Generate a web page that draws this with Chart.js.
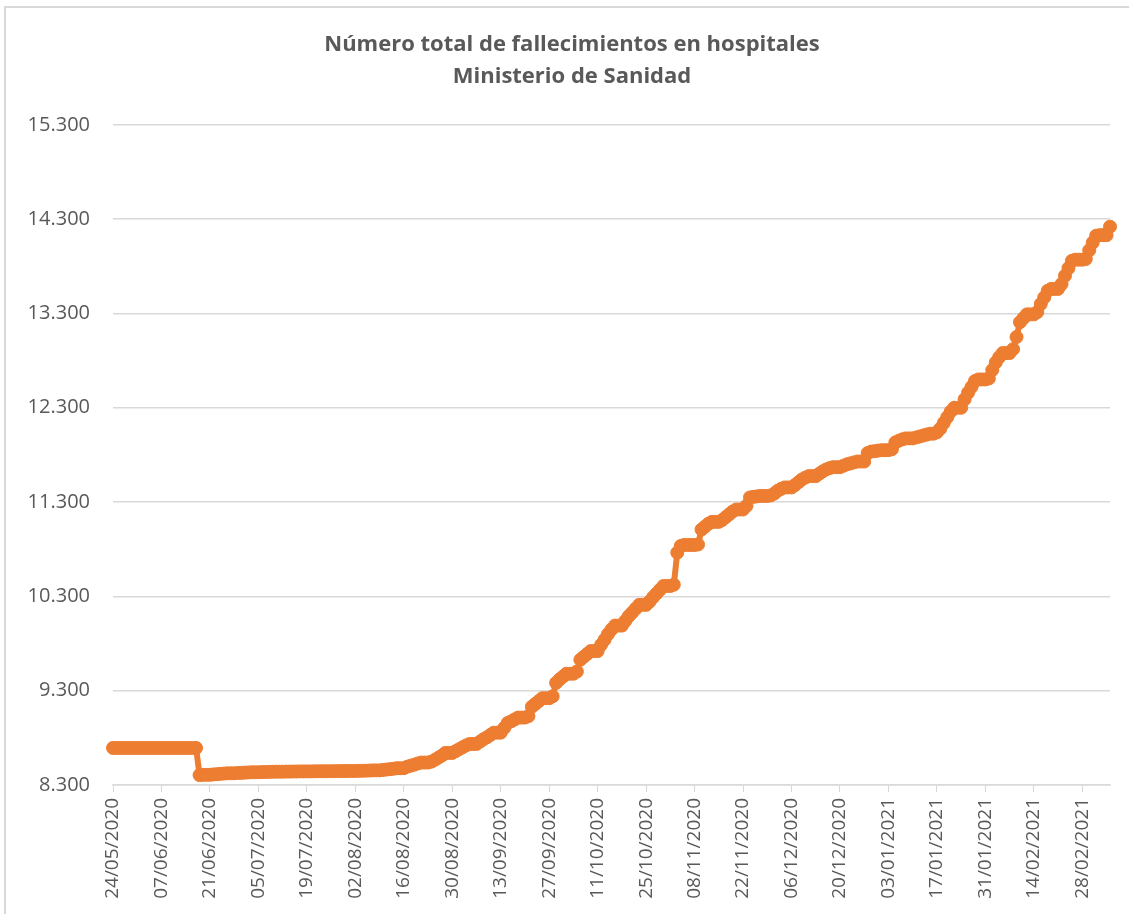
<!DOCTYPE html>
<html lang="es">
<head>
<meta charset="utf-8">
<title>Número total de fallecimientos en hospitales</title>
<script src="https://cdn.jsdelivr.net/npm/chart.js@4/dist/chart.umd.min.js"></script>
<style>
    html, body { margin: 0; padding: 0; background: #fff; overflow: hidden; }
    #frame {
        position: absolute; left: 4px; top: 6px;
        width: 2000px; height: 2000px;
        border-left: 2px solid #d9d9d9; border-top: 2px solid #d9d9d9;
    }
    #wrap { position: absolute; left: 5px; top: 8px; width: 1134px; height: 906px; }
</style>
</head>
<body>
<div id="frame"></div>
<div id="wrap"><canvas id="chart"></canvas></div>
<script>
// First day of the series, one point per day
const startDay = new Date(2020, 4, 24);

// Dates shown on the x axis (every 14 days)
const tickLabels = [
    '24/05/2020', '07/06/2020', '21/06/2020', '05/07/2020', '19/07/2020', '02/08/2020',
    '16/08/2020', '30/08/2020', '13/09/2020', '27/09/2020', '11/10/2020', '25/10/2020',
    '08/11/2020', '22/11/2020', '06/12/2020', '20/12/2020', '03/01/2021', '17/01/2021',
    '31/01/2021', '14/02/2021', '28/02/2021'
];

// Cumulative hospital deaths, one row per week (Sun..Sat)
const deaths = [
    8693, 8693, 8693, 8693, 8693, 8693, 8693,
    8693, 8693, 8693, 8693, 8693, 8693, 8693,
    8693, 8693, 8693, 8693, 8693, 8693, 8693,
    8693, 8693, 8693, 8693, 8405, 8408, 8408,
    8408, 8412, 8415, 8418, 8421, 8424, 8424,
    8424, 8427, 8429, 8431, 8433, 8435, 8435,
    8435, 8437, 8438, 8439, 8440, 8441, 8441,
    8441, 8442, 8442, 8443, 8443, 8444, 8444,
    8444, 8444, 8445, 8445, 8446, 8446, 8446,
    8446, 8447, 8447, 8448, 8448, 8449, 8449,
    8449, 8450, 8451, 8452, 8453, 8455, 8455,
    8455, 8460, 8464, 8468, 8472, 8478, 8478,
    8478, 8494, 8505, 8515, 8528, 8538, 8538,
    8538, 8548, 8568, 8590, 8612, 8640, 8640,
    8640, 8660, 8680, 8700, 8720, 8735, 8735,
    8735, 8760, 8785, 8805, 8830, 8855, 8855,
    8855, 8905, 8958, 8975, 8995, 9015, 9015,
    9015, 9030, 9130, 9160, 9190, 9220, 9220,
    9220, 9240, 9383, 9420, 9450, 9480, 9480,
    9480, 9503, 9628, 9660, 9690, 9720, 9720,
    9720, 9787, 9840, 9900, 9950, 9990, 9990,
    9990, 10040, 10090, 10130, 10170, 10210, 10210,
    10210, 10245, 10290, 10330, 10370, 10410, 10410,
    10410, 10424, 10764, 10835, 10845, 10845, 10845,
    10845, 10850, 11009, 11040, 11070, 11090, 11090,
    11090, 11110, 11140, 11170, 11200, 11221, 11221,
    11221, 11260, 11349, 11355, 11360, 11365, 11365,
    11365, 11370, 11390, 11420, 11440, 11455, 11455,
    11455, 11480, 11510, 11540, 11560, 11575, 11575,
    11575, 11600, 11625, 11646, 11660, 11670, 11670,
    11670, 11685, 11700, 11710, 11720, 11730, 11730,
    11730, 11820, 11835, 11840, 11845, 11850, 11850,
    11850, 11860, 11933, 11950, 11965, 11975, 11975,
    11975, 11985, 11995, 12005, 12015, 12025, 12025,
    12039, 12080, 12140, 12200, 12260, 12300, 12300,
    12300, 12390, 12460, 12520, 12584, 12600, 12600,
    12600, 12610, 12700, 12780, 12836, 12880, 12880,
    12880, 12921, 13050, 13207, 13250, 13290, 13290,
    13290, 13314, 13400, 13470, 13540, 13560, 13560,
    13560, 13611, 13700, 13780, 13859, 13870, 13870,
    13870, 13877, 13970, 14050, 14124, 14130, 14130,
    14130, 14220
];

// Y axis range
const yMin = 8300;
const yMax = 15300;
const yStep = 1000;

// Build dd/mm/yyyy category labels
function pad(n) { return n < 10 ? '0' + n : '' + n; }
const dates = deaths.map((_, i) => {
    const d = new Date(startDay.getFullYear(), startDay.getMonth(), startDay.getDate() + i);
    return pad(d.getDate()) + '/' + pad(d.getMonth() + 1) + '/' + d.getFullYear();
});

function formatThousands(v) {
    return String(v).replace(/\B(?=(\d{3})+(?!\d))/g, '.');
}

const textColor = '#595959';
const gridColor = '#d9d9d9';
const orange = '#ED7D31';

// Title is centred on the whole frame, not on the padded area
const centerTitle = {
    id: 'centerTitle',
    afterLayout(chart) {
        if (chart.titleBlock) chart.titleBlock.right += 29;
    }
};

const ctx = document.getElementById('chart').getContext('2d');
new Chart(ctx, {
    type: 'line',
    data: {
        labels: dates,
        datasets: [{
            label: 'Fallecimientos',
            data: deaths,
            borderColor: orange,
            backgroundColor: orange,
            borderWidth: 6,
            pointRadius: 6.5,
            pointBorderWidth: 1,
            pointBorderColor: orange,
            pointBackgroundColor: orange,
            tension: 0
        }]
    },
    plugins: [centerTitle],
    options: {
        responsive: true,
        maintainAspectRatio: false,
        animation: false,
        layout: { padding: { left: 0, right: 29, top: 0, bottom: 0 } },
        plugins: {
            legend: { display: false },
            tooltip: { enabled: false },
            title: {
                display: true,
                text: ['Número total de fallecimientos en hospitales', 'Ministerio de Sanidad'],
                color: textColor,
                font: { family: 'Open Sans', size: 22, weight: 'bold', lineHeight: 1.45 },
                padding: { top: 21, bottom: 32 }
            }
        },
        scales: {
            x: {
                offset: false,
                grid: {
                    drawOnChartArea: false,
                    drawTicks: true,
                    tickLength: 7,
                    color: (c) => tickLabels.includes(dates[c.index]) ? gridColor : 'rgba(0,0,0,0)'
                },
                border: { display: true, color: gridColor, width: 1.5 },
                ticks: {
                    autoSkip: false,
                    maxRotation: 90,
                    minRotation: 90,
                    padding: 6,
                    color: textColor,
                    font: { family: 'Open Sans', size: 19 },
                    callback: function (value, index) {
                        return tickLabels.includes(dates[index]) ? dates[index] : '';
                    }
                },
                afterFit: (scale) => { scale.height = 129; }
            },
            y: {
                min: yMin,
                max: yMax,
                grid: { color: gridColor, lineWidth: 1.5, drawTicks: false },
                border: { display: false },
                ticks: {
                    stepSize: yStep,
                    padding: 23,
                    color: textColor,
                    font: { family: 'Open Sans', size: 20 },
                    callback: (v) => formatThousands(v)
                },
                afterFit: (scale) => { scale.width = 108; }
            }
        }
    }
});
</script>
</body>
</html>
